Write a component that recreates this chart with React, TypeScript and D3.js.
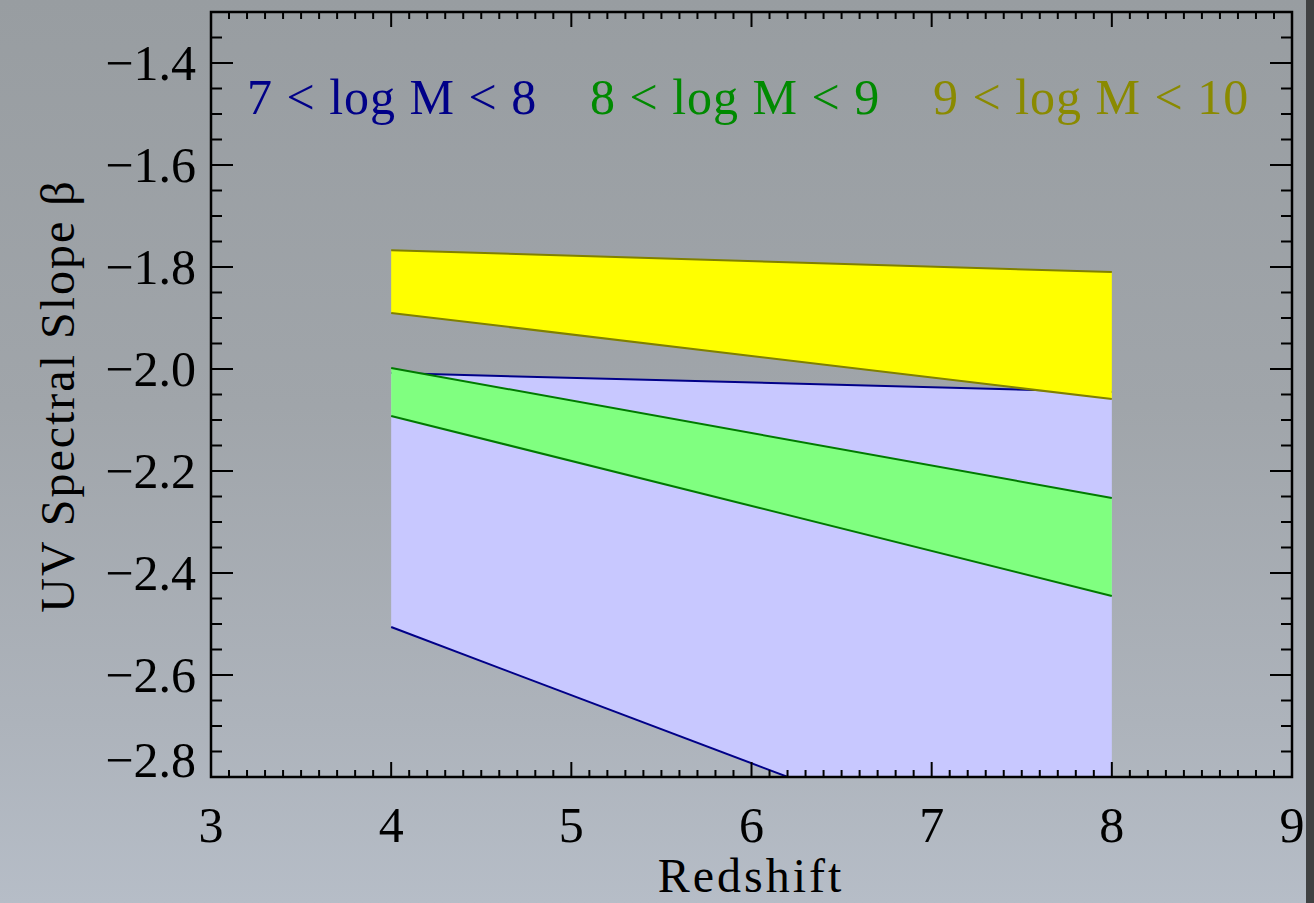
import React from "react";
import * as d3 from "d3";

const redshifts = [4, 8];
const blueUpper = [-2.008, -2.045];
const blueLower = [-2.506, -3.04];
const greenUpper = [-1.998, -2.253];
const greenLower = [-2.092, -2.445];
const yellowUpper = [-1.767, -1.81];
const yellowLower = [-1.89, -2.059];

const xTicks = [3, 4, 5, 6, 7, 8, 9];
const yTicks = [-1.4, -1.6, -1.8, -2.0, -2.2, -2.4, -2.6, -2.8];
const legendLabels = ["7 < log M < 8", "8 < log M < 9", "9 < log M < 10"];

const W = 1314;
const H = 903;
const L = 211, T = 12, R = 1292, B = 777;

export default function App() {
  const x = d3.scaleLinear().domain([3, 9]).range([L, R]);
  const y = d3.scaleLinear().domain([-2.8, -1.3]).range([B, T]);

  const bands = [
    { up: blueUpper, lo: blueLower, fill: "#c8c8ff", stroke: "#000088" },
    { up: greenUpper, lo: greenLower, fill: "#80ff80", stroke: "#007a00" },
    { up: yellowUpper, lo: yellowLower, fill: "#ffff00", stroke: "#808000" },
  ];

  const line = d3
    .line<number>()
    .x((_, i) => x(redshifts[i]))
    .y((d) => y(d));

  const bandPath = (up: number[], lo: number[]) => {
    const pts: [number, number][] = [];
    up.forEach((v, i) => pts.push([x(redshifts[i]), y(v)]));
    for (let i = lo.length - 1; i >= 0; i--) pts.push([x(redshifts[i]), y(lo[i])]);
    return "M" + pts.map((p) => p.join(",")).join("L") + "Z";
  };

  const xMinor = d3.range(30, 91).map((d) => d / 10);
  const yMinor = d3.range(-280, -129, 5).map((d) => d / 100);

  const font = "'Liberation Serif', 'Times New Roman', serif";
  const legendColors = ["#000088", "#008a00", "#8a8a00"];
  const legendX = [247, 590, 933];

  return (
    <svg
      width={W}
      height={H}
      style={{ position: "absolute", left: 0, top: 0 }}
      fontFamily={font}
    >
      <defs>
        <linearGradient id="bg" x1="0" y1="0" x2="0" y2="1">
          <stop offset="0" stopColor="#989da1" />
          <stop offset="0.45" stopColor="#a0a5aa" />
          <stop offset="0.8" stopColor="#adb3bb" />
          <stop offset="1" stopColor="#b6bdc7" />
        </linearGradient>
        <clipPath id="plotclip">
          <rect x={L} y={T} width={R - L} height={B - T} />
        </clipPath>
      </defs>
      <rect x={0} y={0} width={W} height={H} fill="url(#bg)" />
      <rect x={1306} y={0} width={8} height={H} fill="#404142" />

      <g clipPath="url(#plotclip)">
        {bands.map((b, k) => (
          <g key={k}>
            <path d={bandPath(b.up, b.lo)} fill={b.fill} stroke="none" />
            <path d={line(b.up) || ""} fill="none" stroke={b.stroke} strokeWidth={2} />
            <path d={line(b.lo) || ""} fill="none" stroke={b.stroke} strokeWidth={2} />
          </g>
        ))}
      </g>

      <rect x={L} y={T} width={R - L} height={B - T} fill="none" stroke="#000" strokeWidth={2.5} />

      {xMinor.map((v, i) => {
        const major = Math.abs(v - Math.round(v)) < 1e-6;
        const len = major ? 15 : 7;
        return (
          <g key={"xt" + i} stroke="#000" strokeWidth={2}>
            <line x1={x(v)} x2={x(v)} y1={B} y2={B - len} />
            <line x1={x(v)} x2={x(v)} y1={T} y2={T + len} />
          </g>
        );
      })}
      {yMinor.map((v, i) => {
        const major = Math.abs(v * 5 - Math.round(v * 5)) < 1e-6;
        const len = major ? 22 : 11;
        return (
          <g key={"yt" + i} stroke="#000" strokeWidth={2}>
            <line x1={L} x2={L + len} y1={y(v)} y2={y(v)} />
            <line x1={R} x2={R - len} y1={y(v)} y2={y(v)} />
          </g>
        );
      })}

      {xTicks.map((v) => (
        <text key={"xl" + v} x={x(v)} y={842} fontSize={50} textAnchor="middle" fill="#000">
          {String(v)}
        </text>
      ))}
      {yTicks.map((v) => (
        <text
          key={"yl" + v}
          x={196}
          y={y(v) + (v === -2.8 ? 0 : 17)}
          fontSize={50}
          textAnchor="end"
          fill="#000"
        >
          {"\u2212" + Math.abs(v).toFixed(1)}
        </text>
      ))}

      <text x={751} y={892} fontSize={48} textAnchor="middle" letterSpacing={3} fill="#000">
        Redshift
      </text>
      <text
        transform={`translate(74,396) rotate(-90)`}
        fontSize={48}
        textAnchor="middle"
        letterSpacing={2}
        fill="#000"
      >
        UV Spectral Slope β
      </text>

      {legendLabels.map((t, i) => (
        <text
          key={"lg" + i}
          x={legendX[i]}
          y={114}
          fontSize={50}
          letterSpacing={1}
          fill={legendColors[i]}
        >
          {t}
        </text>
      ))}
    </svg>
  );
}
